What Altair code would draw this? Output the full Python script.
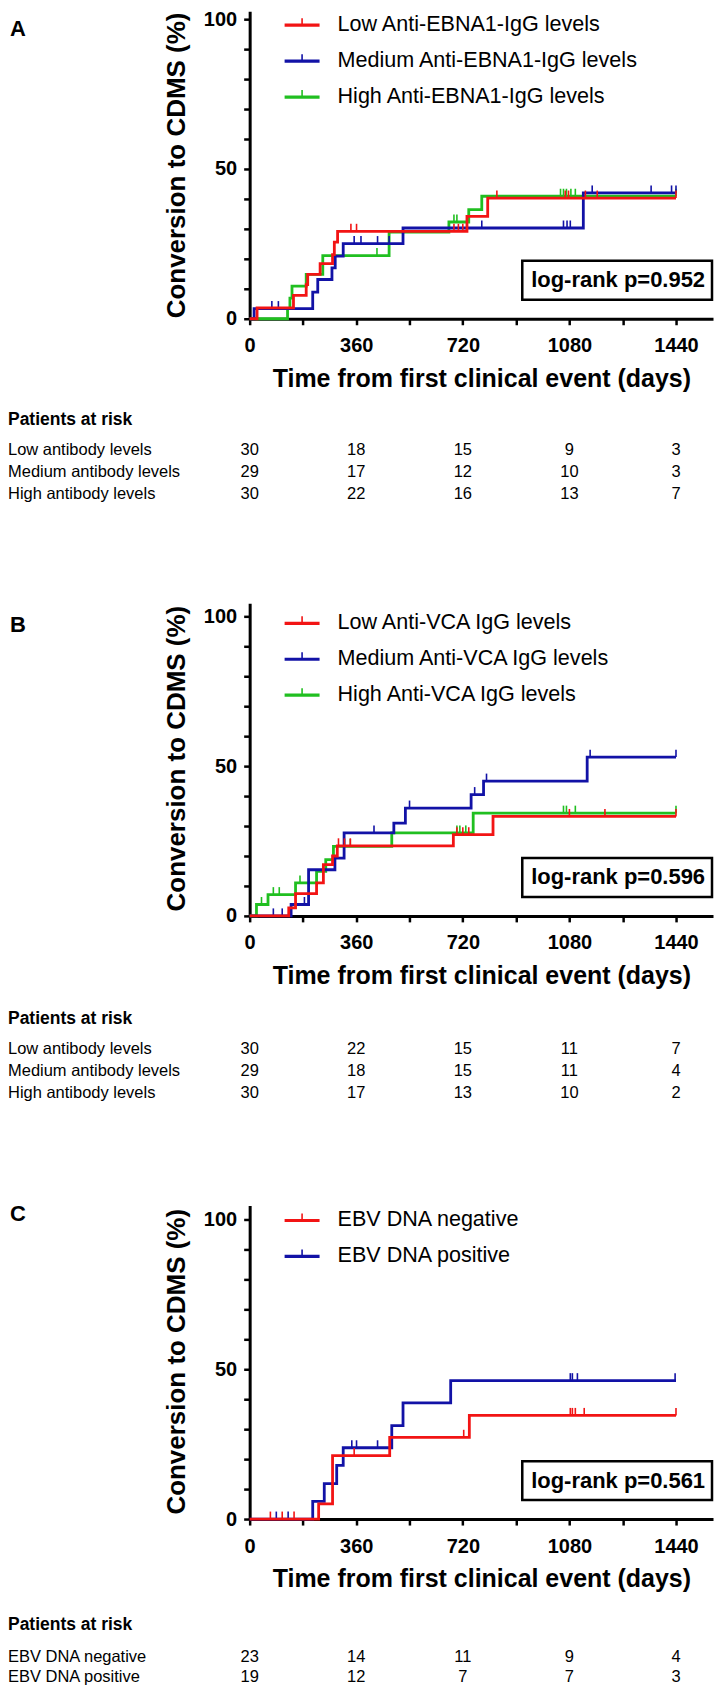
import altair as alt
import pandas as pd

FONT = "Liberation Sans, Arial, Helvetica, sans-serif"
RED, BLUE, GREEN = "#f21414", "#1212a6", "#20bf20"

# ---------------- Panel A data (day, % converted) ----------------
A_names = ["Low Anti-EBNA1-IgG levels", "Medium Anti-EBNA1-IgG levels", "High Anti-EBNA1-IgG levels"]
A_low_days = [0, 25, 148, 191, 196, 238, 280, 286, 297, 734, 804, 1440]
A_low_pct = [0, 3.6, 7.8, 11.4, 14.8, 18.4, 21.4, 25.6, 29.2, 34.2, 40.3, 40.3]
A_low_cens = [342, 361, 690, 705, 720, 835, 1066, 1077, 1134, 1174, 1440]
A_med_days = [0, 15, 213, 230, 278, 289, 316, 518, 1127, 1440]
A_med_pct = [0, 3.4, 8.9, 13.1, 17.0, 20.9, 25.1, 30.3, 42.0, 42.0]
A_med_cens = [75, 97, 353, 376, 432, 471, 784, 1060, 1072, 1083, 1157, 1356, 1425, 1440]
A_high_days = [0, 128, 136, 143, 191, 247, 471, 673, 740, 784, 1440]
A_high_pct = [0, 3.4, 6.9, 10.9, 14.8, 21.1, 28.9, 32.3, 36.4, 40.9, 40.9]
A_high_cens = [430, 690, 700, 1050, 1060, 1070, 1085, 1100, 1440]

# ---------------- Panel B data ----------------
B_names = ["Low Anti-VCA IgG levels", "Medium Anti-VCA IgG levels", "High Anti-VCA IgG levels"]
B_low_days = [0, 132, 155, 226, 249, 280, 296, 688, 822, 1440]
B_low_pct = [0, 2.7, 7.4, 11.0, 17.1, 20.0, 23.4, 27.1, 33.2, 33.2]
B_low_cens = [300, 320, 340, 700, 720, 740, 1080, 1200, 1440]
B_med_days = [0, 140, 199, 288, 319, 487, 526, 748, 790, 1140, 1440]
B_med_pct = [0, 3.8, 15.4, 19.3, 27.7, 31.0, 36.0, 40.5, 45.0, 53.0, 53.0]
B_med_cens = [80, 110, 185, 420, 540, 760, 800, 1150, 1440]
B_high_days = [0, 23, 62, 155, 226, 257, 283, 480, 755, 1440]
B_high_pct = [0, 3.8, 7.1, 11.0, 14.9, 18.8, 23.2, 27.7, 34.3, 34.3]
B_high_cens = [40, 80, 100, 170, 320, 340, 700, 710, 730, 1060, 1070, 1100, 1440]

# ---------------- Panel C data ----------------
C_names = ["EBV DNA negative", "EBV DNA positive"]
C_neg_days = [0, 233, 280, 473, 742, 1440]
C_neg_pct = [0, 5.1, 21.2, 27.3, 34.6, 34.6]
C_neg_cens = [70, 110, 150, 353, 723, 1083, 1090, 1100, 1130, 1440]
C_pos_days = [0, 213, 252, 294, 316, 480, 518, 679, 1440]
C_pos_pct = [0, 5.9, 11.8, 17.9, 23.8, 31.2, 38.8, 46.2, 46.2]
C_pos_cens = [90, 130, 345, 361, 432, 1083, 1090, 1107, 1437]

# ---------------- Patients at risk ----------------
risk_times = [0, 360, 720, 1080, 1440]
AB_risk_labels = ["Low antibody levels", "Medium antibody levels", "High antibody levels"]
A_risk = [[30, 18, 15, 9, 3], [29, 17, 12, 10, 3], [30, 22, 16, 13, 7]]
B_risk = [[30, 22, 15, 11, 7], [29, 18, 15, 11, 4], [30, 17, 13, 10, 2]]
C_risk_labels = ["EBV DNA negative", "EBV DNA positive"]
C_risk = [[23, 14, 11, 9, 4], [19, 12, 7, 7, 3]]

XMAX = 1565
W = 464
PX_PER_UNIT = 3.0


def step_value(days, pct, t):
    v = pct[0]
    for d, p in zip(days, pct):
        if d <= t:
            v = p
    return v


def panel(letter, series, pval, risk_labels, risk_rows, ytop, letter_dy, legend_dy, risk_dy, title_y):
    H = ytop * PX_PER_UNIT
    y100 = H - 100 * PX_PER_UNIT
    xs = alt.Scale(domain=[0, XMAX], nice=False, zero=False)
    ys = alt.Scale(domain=[0, ytop], nice=False, zero=False)
    xaxis = alt.Axis(
        values=list(range(0, 1441, 180)),
        labelExpr="datum.value % 360 == 0 ? format(datum.value, 'd') : ''",
        title="Time from first clinical event (days)",
        titleFont=FONT, titleFontSize=25, titleFontWeight="bold", titleColor="black",
        titleY=60, titleBaseline="middle",
        labelFont=FONT, labelFontSize=20, labelFontWeight="bold", labelColor="black",
        labelPadding=11, labelBaseline="top", labelFlush=False,
        tickSize=6, tickWidth=2.5, tickColor="black",
        domainColor="black", domainWidth=3, grid=False)
    yaxis = alt.Axis(
        values=list(range(0, 101, 10)),
        labelExpr="datum.value % 50 == 0 ? format(datum.value, 'd') : ''",
        title="Conversion to CDMS (%)",
        titleFont=FONT, titleFontSize=26, titleFontWeight="bold", titleColor="black",
        titleX=-73, titleY=title_y, titleBaseline="middle", titleAlign="center",
        titleAngle=270,
        labelFont=FONT, labelFontSize=20, labelFontWeight="bold", labelColor="black",
        labelPadding=7, labelFlush=False,
        tickSize=6, tickWidth=2.5, tickColor="black",
        domainColor="black", domainWidth=3, grid=False)

    def X():
        return alt.X("t:Q", scale=xs, axis=xaxis)

    def Y(f="p"):
        return alt.Y(f"{f}:Q", scale=ys, axis=yaxis)

    layers = []
    # step curves, drawn in reverse order so the first group ends on top
    for name, color, days, pct, cens in reversed(series):
        df = pd.DataFrame({"t": days, "p": pct})
        layers.append(
            alt.Chart(df).mark_line(interpolate="step-after", strokeWidth=2.8, color=color).encode(
                x=X(), y=Y())
        )
        cdf = pd.DataFrame({"t": cens, "p": [step_value(days, pct, c) for c in cens]})
        layers.append(
            alt.Chart(cdf).mark_rule(strokeWidth=1.6, color=color)
            .transform_calculate(p2="datum.p + 2.5")
            .encode(x=X(), y=Y(), y2="p2:Q")
        )

    # legend (manual)
    one = pd.DataFrame({"s": [pval]})
    for i, (name, color, *_rest) in enumerate(series):
        ly = y100 + legend_dy + 36 * i
        layers.append(alt.Chart(one).mark_rule(strokeWidth=3.2, color=color).encode(
            x=alt.value(35), x2=alt.value(70), y=alt.value(ly)))
        layers.append(alt.Chart(one).mark_rule(strokeWidth=1.6, color=color).encode(
            x=alt.value(52.5), y=alt.value(ly), y2=alt.value(ly - 7)))
        layers.append(alt.Chart(pd.DataFrame({"s": [name]})).mark_text(
            align="left", baseline="middle", font=FONT, fontSize=21.6, color="black").encode(
            x=alt.value(88), y=alt.value(ly), text="s:N"))

    # log-rank box
    layers.append(alt.Chart(one).mark_rect(fill="white", stroke="black", strokeWidth=2.5).encode(
        x=alt.value(273), x2=alt.value(463), y=alt.value(H - 58), y2=alt.value(H - 19)))
    layers.append(alt.Chart(one).mark_text(align="center", baseline="middle", font=FONT, fontSize=22,
                                           fontWeight="bold", color="black").encode(
        x=alt.value(369), y=alt.value(H - 38.5), text="s:N"))

    # panel letter
    layers.append(alt.Chart(pd.DataFrame({"s": [letter]})).mark_text(
        align="left", baseline="middle", font=FONT, fontSize=22, fontWeight="bold", color="black").encode(
        x=alt.value(-240), y=alt.value(y100 + letter_dy), text="s:N"))

    # patients at risk
    layers.append(alt.Chart(pd.DataFrame({"s": ["Patients at risk"]})).mark_text(
        align="left", baseline="middle", font=FONT, fontSize=17.5, fontWeight="bold", color="black").encode(
        x=alt.value(-242), y=alt.value(H + risk_dy[0]), text="s:N"))
    for r, (lab, counts) in enumerate(zip(risk_labels, risk_rows)):
        yy = H + risk_dy[1] + risk_dy[2] * r
        layers.append(alt.Chart(pd.DataFrame({"s": [lab]})).mark_text(
            align="left", baseline="middle", font=FONT, fontSize=16.5, color="black").encode(
            x=alt.value(-242), y=alt.value(yy), text="s:N"))
        cdf = pd.DataFrame({"t": risk_times, "n": counts})
        layers.append(alt.Chart(cdf).mark_text(
            align="center", baseline="middle", font=FONT, fontSize=16.5, color="black").encode(
            x=X(), y=alt.value(yy), text="n:Q"))

    return alt.layer(*layers).properties(width=W, height=H)


A = panel("A",
          [(A_names[0], RED, A_low_days, A_low_pct, A_low_cens),
           (A_names[1], BLUE, A_med_days, A_med_pct, A_med_cens),
           (A_names[2], GREEN, A_high_days, A_high_pct, A_high_cens)],
          "log-rank p=0.952", AB_risk_labels, A_risk, 102.67, 10, 6, (101, 131, 22), 154)
B = panel("B",
          [(B_names[0], RED, B_low_days, B_low_pct, B_low_cens),
           (B_names[1], BLUE, B_med_days, B_med_pct, B_med_cens),
           (B_names[2], GREEN, B_high_days, B_high_pct, B_high_cens)],
          "log-rank p=0.596", AB_risk_labels, B_risk, 104.33, 9, 7, (103, 133, 22), 313 - 158)
C = panel("C",
          [(C_names[0], RED, C_neg_days, C_neg_pct, C_neg_cens),
           (C_names[1], BLUE, C_pos_days, C_pos_pct, C_pos_cens)],
          "log-rank p=0.561", C_risk_labels, C_risk, 104.67, -5, 1, (106, 138, 20), 314 - 158)

inner = alt.vconcat(B, C, spacing=290, bounds="flush")
chart = alt.vconcat(A, inner, spacing=284, bounds="flush").properties(
    padding=0, background="white"
).configure_view(stroke=None)

chart.save("out.html", embed_options={"renderer": "svg", "actions": False})
